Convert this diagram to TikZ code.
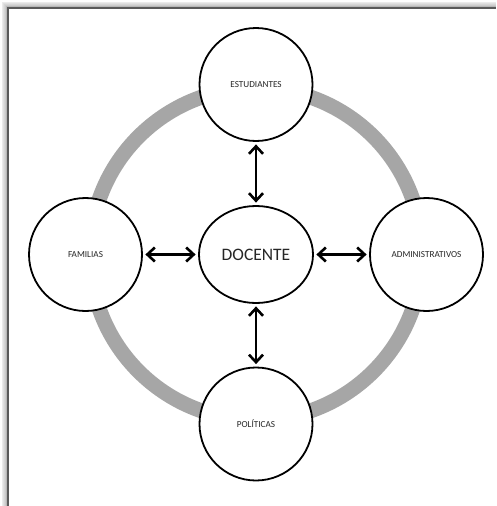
\documentclass[tikz,border=0pt]{standalone}
\usepackage{fontspec}
\setmainfont{Carlito}
\usetikzlibrary{arrows.meta,shapes.geometric}
\definecolor{ringgray}{HTML}{A6A6A6}
\definecolor{labelgray}{HTML}{262626}
\definecolor{framegray}{HTML}{5A5A5A}
\tikzset{
  x=1pt, y=1pt,
  actor/.style={circle, draw=black, line width=1.8pt, fill=white,
    minimum size=113pt, inner sep=0pt, text=labelgray, font=\fontsize{9.2}{10}\selectfont},
  core/.style={ellipse, draw=black, line width=1.8pt, fill=white,
    minimum width=114pt, minimum height=97pt, inner sep=0pt, text=labelgray,
    font=\fontsize{17.5}{19}\selectfont},
  barb/.tip={Straight Barb[length=7.5pt,width=14pt,line width=2.6pt]},
  link/.style={line width=2.5pt, {barb}-{barb}, shorten <=2.5pt, shorten >=2.5pt},
  ring/.style={draw=ringgray, line width=15pt}
}
\begin{document}
\begin{tikzpicture}
\useasboundingbox (0,0) rectangle (496,-506);
\fill[white] (0,0) rectangle (496,-506);
% soft shadow along the top and left edges of the frame
\foreach \d/\g in {6/92,5/88,4/84,3/80,2/72,1/62}{
  \draw[black!\the\numexpr100-\g\relax, line width=1pt]
    (8-\d,-506) -- (8-\d,-8+\d) -- (496,-8+\d);
}
\draw[framegray, line width=1.6pt] (8,-506) -- (8,-8) -- (496,-8);

% outer ring
\draw[ring] (256,-254) circle (166);

% nodes
\node[core]  (docente) at (256,-254.5) {DOCENTE};
\node[actor] (est) at (256,-84.5)  {ESTUDIANTES};
\node[actor] (fam) at (85.5,-254.5) {FAMILIAS};
\node[actor] (adm) at (426.5,-254.5) {ADMINISTRATIVOS};
\node[actor] (pol) at (256,-424)   {POLÍTICAS};

% two-way links to the centre
\draw[link] (est) -- (docente);
\draw[link] (fam) -- (docente);
\draw[link] (docente) -- (adm);
\draw[link] (docente) -- (pol);
\end{tikzpicture}
\end{document}
